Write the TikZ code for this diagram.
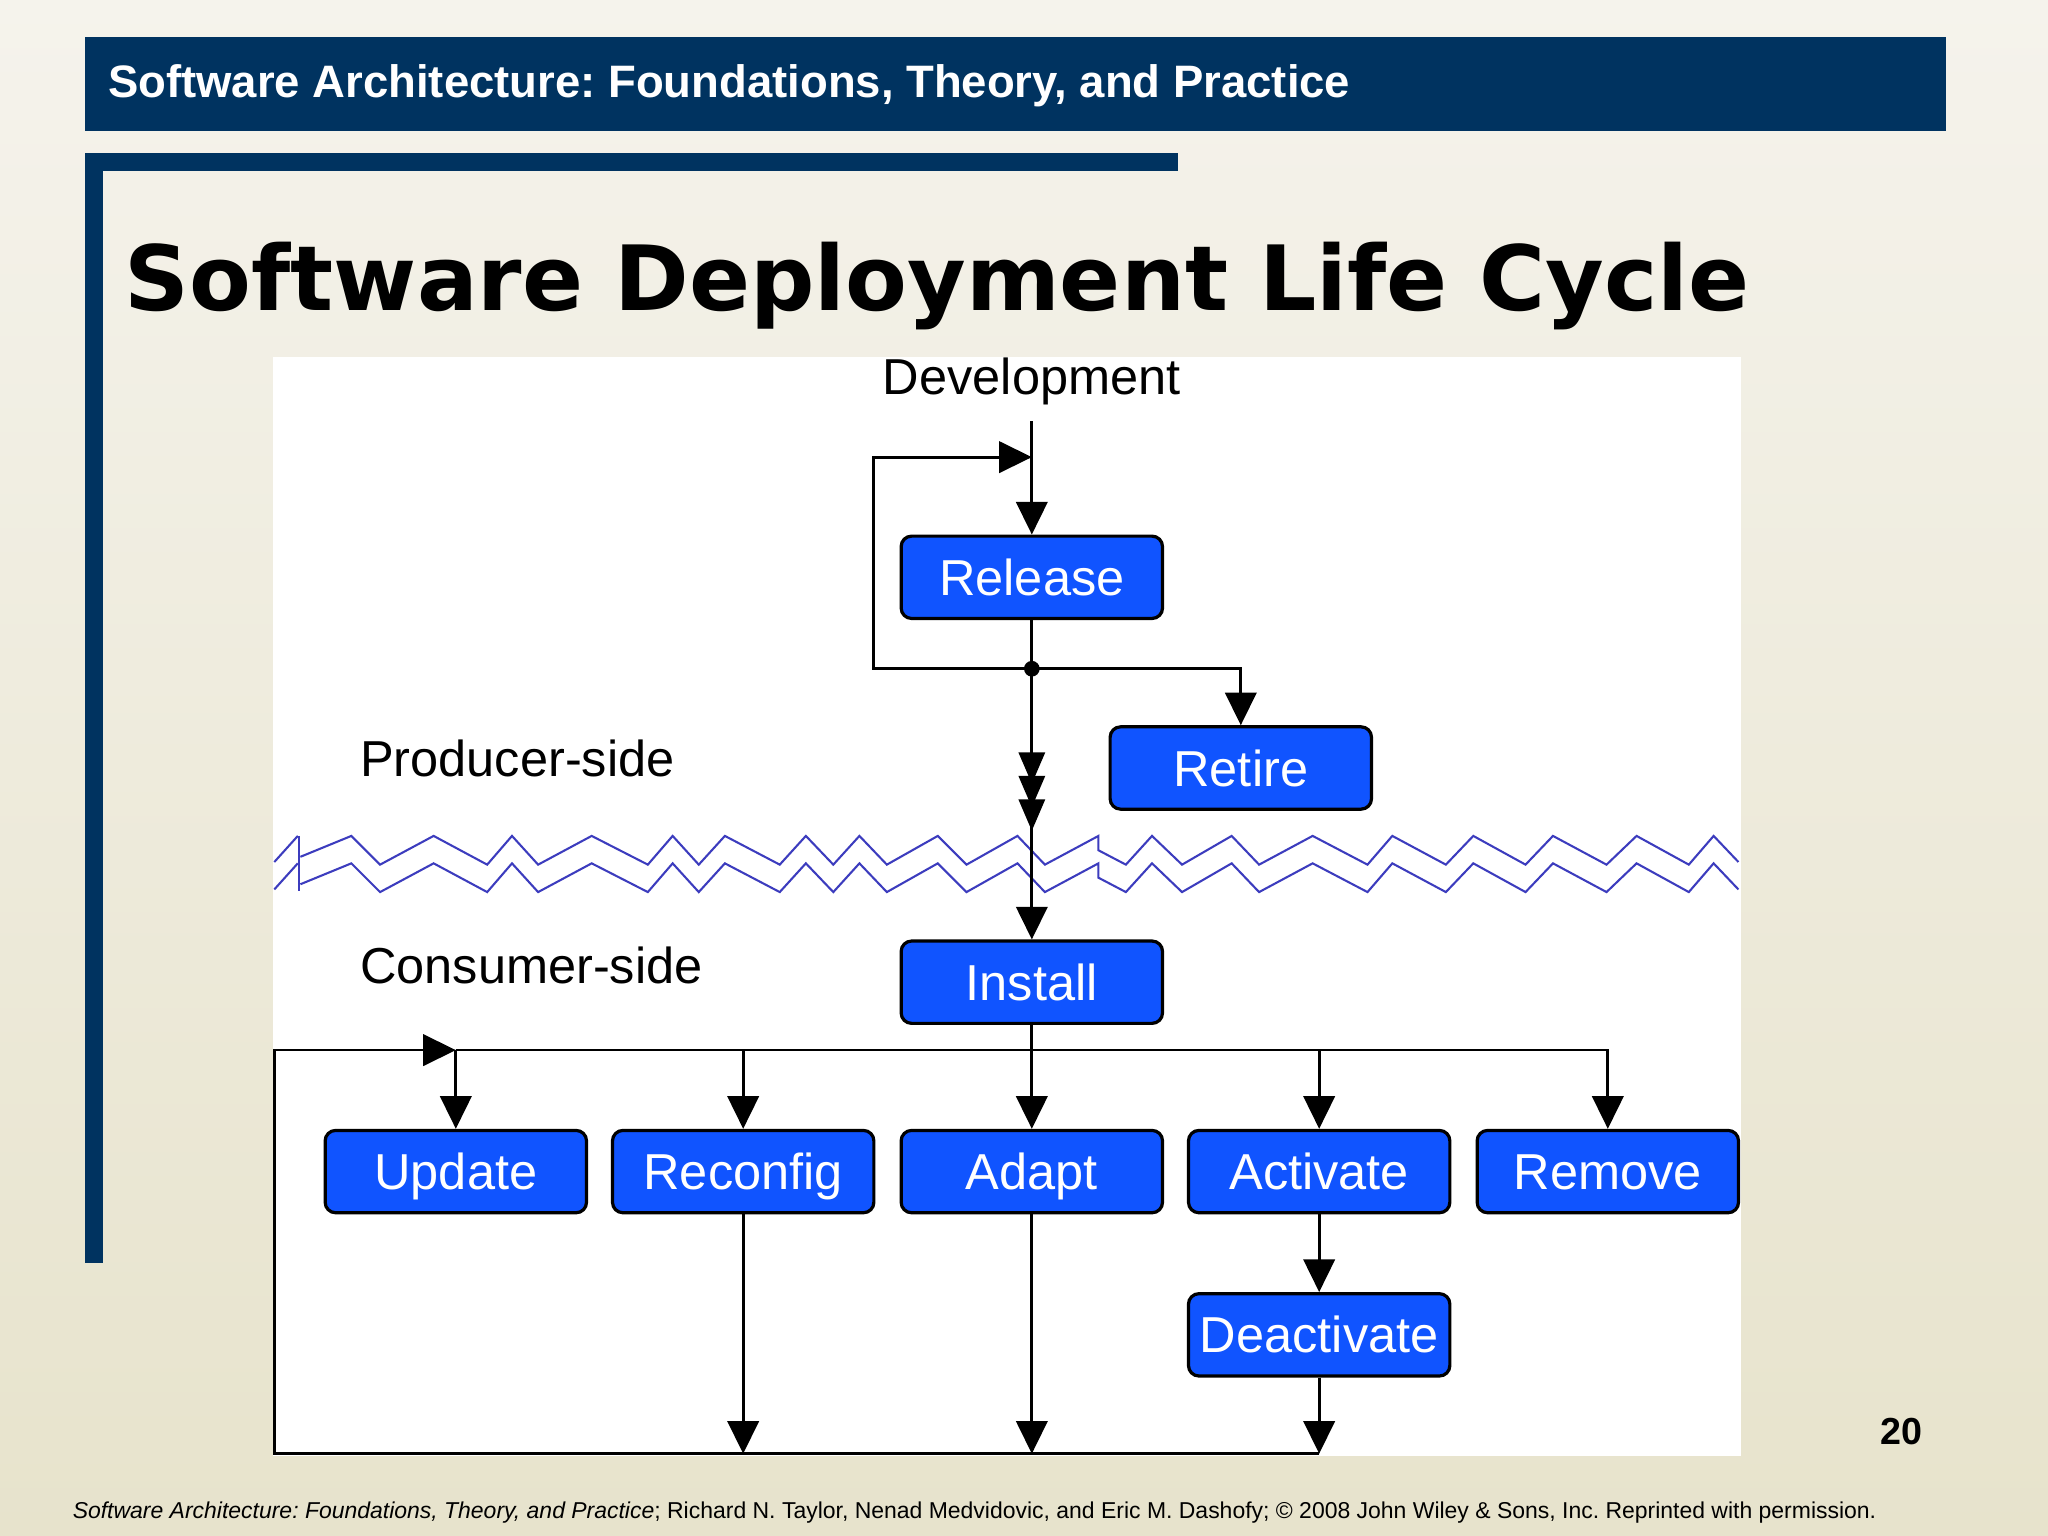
\documentclass[tikz,border=0pt]{standalone}
\usepackage{fontspec}
\setmainfont{Liberation Sans}
\newfontfamily\titlefont{DejaVu Sans}
\usetikzlibrary{arrows.meta, calc, decorations.markings}
\frenchspacing
\definecolor{navy}{RGB}{0,51,96}
\definecolor{boxblue}{RGB}{16,84,255}
\definecolor{zigblue}{RGB}{60,60,190}
\definecolor{bgtop}{RGB}{245,243,236}
\definecolor{bgbot}{RGB}{231,227,204}
\tikzset{
  stage/.style = {draw=black, line width=0.7pt, fill=boxblue, rounded corners=0.08cm,
    minimum width=2cm, minimum height=0.63cm, inner sep=0pt, text=white,
    text height=7.9pt, text depth=0pt, font=\fontsize{11}{13}\selectfont},
  ln/.style = {line width=0.6pt},
  arr/.style = {ln, -{Triangle[width=0.24cm, length=0.25cm]}},
  zig/.style = {draw=zigblue, line width=0.45pt},
  side/.style = {anchor=west, inner sep=0pt, font=\fontsize{11}{13}\selectfont},
  triple/.style = {postaction={decorate}, decoration={markings,
    mark=at position 0.88cm with {\arrow{Triangle[width=0.2cm, length=0.24cm]}},
    mark=at position 1.06cm with {\arrow{Triangle[width=0.2cm, length=0.24cm]}},
    mark=at position 1.24cm with {\arrow{Triangle[width=0.2cm, length=0.24cm]}}}}
}

\begin{document}
\begin{tikzpicture}[x=0.01cm, y=-0.01cm]
\shade[top color=bgtop, bottom color=bgbot] (0,0) rectangle (1568,1176);
\useasboundingbox (0,0) rectangle (1568,1176);
% slide frame
\fill[navy] (65,28) rectangle (1490,100);
\node[anchor=west, inner sep=0pt, text=white, font=\fontsize{9.9}{12}\selectfont\bfseries] (hdr) at (82,66) {Software Architecture: Foundations, Theory, and Practice};
\fill[navy] (65,117) rectangle (902,131);
\fill[navy] (65,117) rectangle (79,967);
\node[anchor=base west, inner sep=0pt, font=\titlefont\fontsize{19.6}{24}\selectfont\bfseries] (title) at (95,238) {Software Deployment Life Cycle};
\node[font=\fontsize{8.2}{10}\selectfont\bfseries] (pg) at (1456,1096) {20};
\node[anchor=west, inner sep=0pt, font=\fontsize{5}{6}\selectfont] (ftr) at (55,1158) {\textit{Software Architecture: Foundations, Theory, and Practice}; Richard N. Taylor, Nenad Medvidovic, and Eric M. Dashofy; © 2008 John Wiley \& Sons, Inc. Reprinted with permission.};

% diagram
\fill[white] (209,273) rectangle (1333,1115);

% producer / consumer border
\foreach \dy in {0,21} {
  \draw[zig, shift={(0,\dy)}] (210,660) -- (228,640);
  \draw[zig, shift={(0,\dy)}] (230,656) -- (269,640) -- (291,662) -- (332,640) -- (373,662)
    -- (392,640) -- (412,662) -- (453,640) -- (496,662) -- (515,640) -- (535,662)
    -- (555,640) -- (597,662) -- (617,640) -- (638,662) -- (658,640) -- (679,662)
    -- (718,640) -- (740,662) -- (779,640) -- (800,662) -- (841,640) -- (841,651)
    -- (862,662) -- (882,640) -- (905,662) -- (943,640) -- (964,662) -- (1005,640)
    -- (1047,662) -- (1066,640) -- (1107,662) -- (1128,640) -- (1168,662) -- (1189,640)
    -- (1230,662) -- (1253,640) -- (1293,662) -- (1312,640) -- (1331,660);
}
\draw[zig] (229,640) -- (229,682);

\node[font=\fontsize{11}{13}\selectfont] (dev) at (790,292) {Development};
\node[side] (prod) at (275,581) {Producer-side};
\node[side] (cons) at (275,739) {Consumer-side};

\node[stage] (rel) at (790,442) {Release};
\node[stage] (ret) at (950,588) {Retire};
\node[stage] (ins) at (790,752) {Install};
\node[stage] (upd) at (349,897) {Update};
\node[stage] (rec) at (569,897) {Reconfig};
\node[stage] (ada) at (790,897) {Adapt};
\node[stage] (act) at (1010,897) {Activate};
\node[stage] (rem) at (1231,897) {Remove};
\node[stage] (dea) at (1010,1022) {Deactivate};

\coordinate (lp) at (790,350);
\coordinate (jn) at (790,512);
\coordinate (bus) at (790,804);
\coordinate (bot) at (1010,1113);
\coordinate (lc) at (210,1113);

% producer side
\draw[arr] (dev.south) -- (rel.north);
\draw[ln] (rel.south) -- (jn);
\fill (jn) circle[radius=0.06cm];
\draw[arr] (jn) -- ++(-121,0) |- (lp);
\draw[arr] (jn) -| (ret.north);
\draw[arr, triple] (jn) -- (ins.north);

% consumer side
\draw[ln] (ins.south) -- (bus);
\draw[ln] (upd.north |- bus) -- (bus);
\draw[arr] (bus) -- (ada.north);
\draw[arr] (bus) -| (rem.north);
\draw[arr] (upd.north |- bus) -- (upd.north);
\draw[arr] (rec.north |- bus) -- (rec.north);
\draw[arr] (act.north |- bus) -- (act.north);
\draw[arr] (act.south) -- (dea.north);
\draw[arr] (rec.south) -- (rec.south |- bot);
\draw[arr] (ada.south) -- (ada.south |- bot);
\draw[arr] (dea.south) -- (bot);
\draw[arr] (bot) -- (lc) |- (upd.north |- bus);
\end{tikzpicture}
\end{document}
